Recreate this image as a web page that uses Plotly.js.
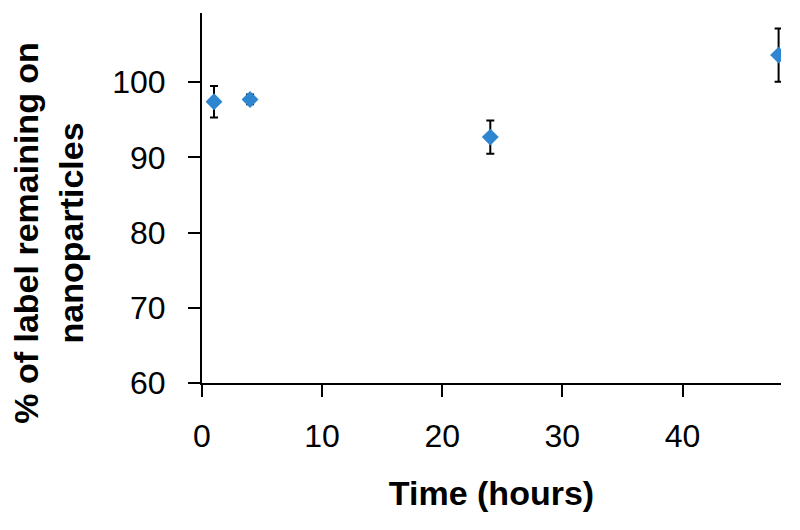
<!DOCTYPE html>
<html>
<head>
<meta charset="utf-8">
<script src="https://cdn.plot.ly/plotly-3.0.1.min.js"></script>
<style>html,body{margin:0;padding:0;background:#fff;}#chart{width:800px;height:530px;}</style>
</head>
<body>
<div id="chart"></div>
<script>
const timeHours = [1, 4, 24, 48];
const labelRemaining = [97.4, 97.7, 92.7, 103.6];
const errorValues = [2.1, 0.65, 2.2, 3.55];
const xTicks = [0, 10, 20, 30, 40];
const yTicks = [60, 70, 80, 90, 100];

const trace = {
  x: timeHours,
  y: labelRemaining,
  type: 'scatter',
  mode: 'markers',
  marker: {symbol: 'diamond', size: 13, color: '#2E86D0'},
  error_y: {type: 'data', array: errorValues, visible: true, color: '#000', thickness: 2, width: 4},
  showlegend: false
};

const font = {family: 'Liberation Sans, Arial, sans-serif', color: '#000'};

const layout = {
  width: 800, height: 530,
  margin: {l: 202, r: 19, t: 13, b: 147, pad: 0},
  paper_bgcolor: '#fff', plot_bgcolor: '#fff',
  font: font,
  xaxis: {
    range: [0, 48.2], tickvals: xTicks, ticktext: xTicks.map(String),
    showgrid: false, zeroline: false, showline: true, linecolor: '#000', linewidth: 2,
    ticks: 'outside', ticklen: 12, tickwidth: 2, tickcolor: '#000',
    tickfont: {size: 32, family: font.family, color: '#000'},
    ticklabelstandoff: 12,
    title: {text: '<b>Time (hours)</b>', font: {size: 34, family: font.family, color: '#000'}, standoff: 28}
  },
  yaxis: {
    range: [60, 109.2], tickvals: yTicks, ticktext: yTicks.map(String),
    showgrid: false, zeroline: false, showline: true, linecolor: '#000', linewidth: 2,
    ticks: 'outside', ticklen: 12, tickwidth: 2, tickcolor: '#000',
    tickfont: {size: 32, family: font.family, color: '#000'},
    ticklabelstandoff: 16
  },
  annotations: [{
    text: '<b>% of label remaining on<br>nanoparticles</b>',
    textangle: -90, showarrow: false,
    xref: 'paper', yref: 'paper', x: -0.265, y: 0.405,
    xanchor: 'center', yanchor: 'middle',
    font: {size: 34, family: font.family, color: '#000'}
  }]
};

Plotly.newPlot('chart', [trace], layout, {displayModeBar: false, staticPlot: true});
</script>
</body>
</html>
